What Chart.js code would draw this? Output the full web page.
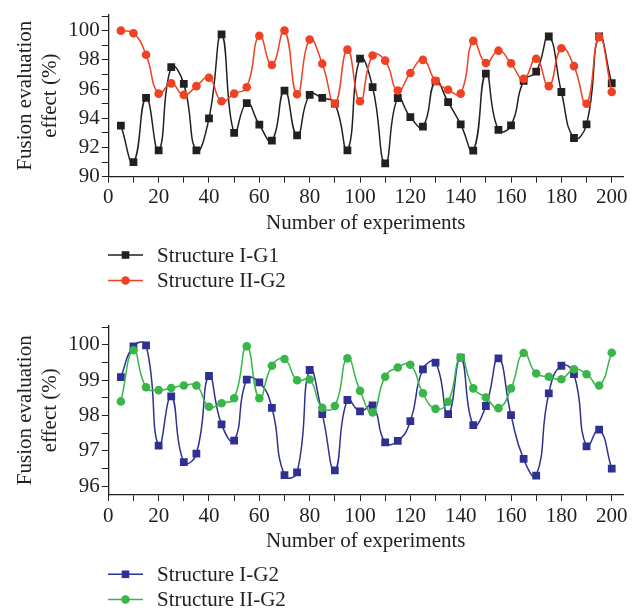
<!DOCTYPE html>
<html>
<head>
<meta charset="utf-8">
<script src="https://cdn.jsdelivr.net/npm/chart.js@4"></script>
<style>
  body { margin: 0; background: #fff; }
  .wrap { position: absolute; left: 0; width: 637px; }
  #top { top: 0; height: 300px; }
  #bottom { top: 300px; height: 312px; }
</style>
</head>
<body>
<div class="wrap" id="top"><canvas id="chart1"></canvas></div>
<div class="wrap" id="bottom"><canvas id="chart2"></canvas></div>
<script>
// x values (number of experiments)
const experiments = [5, 10, 15, 20, 25, 30, 35, 40, 45, 50, 55, 60, 65, 70, 75, 80, 85, 90, 95, 100,
  105, 110, 115, 120, 125, 130, 135, 140, 145, 150, 155, 160, 165, 170, 175, 180, 185, 190, 195, 200];

// top chart
const structureIG1 = [93.5, 91.0, 95.4, 91.8, 97.5, 96.35, 91.8, 94.0, 99.74, 93.0, 95.04, 93.56, 92.47, 95.9, 92.83, 95.6, 95.4, 95.0, 91.8, 98.08,
  96.13, 90.91, 95.39, 94.08, 93.43, 96.52, 95.1, 93.58, 91.78, 97.06, 93.2, 93.52, 96.56, 97.2, 99.6, 95.8, 92.65, 93.58, 99.6, 96.4];
const structureIIG2a = [100.0, 99.82, 98.35, 95.69, 96.39, 95.6, 96.2, 96.78, 95.17, 95.69, 96.13, 99.65, 97.65, 100.0, 95.65, 99.39, 97.74, 95.0, 98.7, 95.17,
  98.3, 97.95, 95.9, 97.1, 98.0, 96.56, 95.95, 95.69, 99.3, 97.78, 98.63, 97.76, 96.7, 98.08, 96.2, 98.8, 97.57, 95.0, 99.56, 95.8];

// bottom chart
const structureIG2 = [99.09, 99.96, 99.99, 97.15, 98.54, 96.68, 96.92, 99.12, 97.75, 97.29, 99.02, 98.94, 98.22, 96.31, 96.39, 99.29, 98.04, 96.45, 98.44, 98.12,
  98.29, 97.24, 97.28, 97.84, 99.31, 99.5, 98.04, 99.64, 97.73, 98.27, 99.62, 98.01, 96.77, 96.3, 98.63, 99.41, 99.17, 97.13, 97.6, 96.5];
const structureIIG2b = [98.4, 99.85, 98.8, 98.72, 98.78, 98.85, 98.85, 98.25, 98.35, 98.49, 99.96, 98.49, 99.41, 99.6, 99.0, 99.02, 98.22, 98.27, 99.62, 98.7,
  98.09, 99.1, 99.36, 99.44, 98.63, 98.19, 98.39, 99.64, 98.77, 98.51, 98.21, 98.77, 99.77, 99.19, 99.1, 99.03, 99.31, 99.17, 98.85, 99.78];

const BLACK = '#231f20', RED = '#ef4123', BLUE = '#2e3192', GREEN = '#39b54a';
const FONT = 'Liberation Serif';
const TEXT = '#231f20';

function points(ys) {
  return experiments.map((x, i) => ({ x: x, y: ys[i] }));
}

function makeDataset(label, ys, color, style, order) {
  return {
    label: label,
    data: points(ys),
    borderColor: color,
    backgroundColor: color,
    borderWidth: 1.5,
    tension: 0.5,
    pointStyle: style,
    pointRadius: style === 'rect' ? 5.5 : 4.3,
    pointBorderWidth: 0,
    order: order
  };
}

// draws the legend rows below the x-axis title
const legendRows = {
  id: 'legendRows',
  afterDraw(chart, args, opts) {
    const ctx = chart.ctx;
    ctx.save();
    opts.items.forEach((item, i) => {
      const y = opts.y[i];
      ctx.strokeStyle = item.color;
      ctx.lineWidth = 1.5;
      ctx.beginPath();
      ctx.moveTo(108, y);
      ctx.lineTo(143, y);
      ctx.stroke();
      ctx.fillStyle = item.color;
      if (item.style === 'rect') {
        ctx.fillRect(125.5 - 3.8, y - 3.8, 7.6, 7.6);
      } else {
        ctx.beginPath();
        ctx.arc(125.5, y, 4.3, 0, Math.PI * 2);
        ctx.fill();
      }
      ctx.fillStyle = TEXT;
      ctx.font = '21px "' + FONT + '"';
      ctx.textBaseline = 'middle';
      ctx.fillText(item.label, 157, y + 1);
    });
    ctx.restore();
  }
};

function makeOptions(yMin, yMax, yStep, isLabel, padTop, xHeight, padBottom, legend) {
  return {
    responsive: true,
    maintainAspectRatio: false,
    animation: false,
    layout: { padding: { top: padTop, right: 13.7, left: 0, bottom: padBottom } },
    plugins: {
      legend: { display: false },
      tooltip: { enabled: false },
      legendRows: legend
    },
    scales: {
      x: {
        type: 'linear',
        min: 0,
        max: 204.6,
        afterFit: s => { s.height = xHeight; },
        grid: { drawOnChartArea: false, drawTicks: true, tickLength: 6, color: TEXT },
        border: { color: TEXT, width: 1.3 },
        ticks: {
          stepSize: 10,
          includeBounds: false,
          autoSkip: false,
          maxRotation: 0,
          padding: 2.5,
          color: TEXT,
          font: { family: FONT, size: 21 },
          callback: v => (v % 20 === 0 ? v : '')
        },
        title: {
          display: true,
          text: 'Number of experiments',
          color: TEXT,
          font: { family: FONT, size: 21, lineHeight: 1.2 },
          padding: { top: 0, bottom: 0 }
        }
      },
      y: {
        min: yMin,
        max: yMax,
        afterFit: s => { s.width = 108.3; },
        grid: { drawOnChartArea: false, drawTicks: true, tickLength: 6.5, color: TEXT },
        border: { color: TEXT, width: 1.3 },
        ticks: {
          stepSize: yStep,
          includeBounds: false,
          autoSkip: false,
          padding: 2,
          color: TEXT,
          font: { family: FONT, size: 21 },
          callback: v => (isLabel(v) ? v : '')
        },
        title: {
          display: true,
          text: ['Fusion evaluation', 'effect (%)'],
          color: TEXT,
          font: { family: FONT, size: 21, lineHeight: 1.19 },
          padding: { top: 12.5, bottom: 0 }
        }
      }
    }
  };
}

new Chart(document.getElementById('chart1'), {
  type: 'line',
  data: {
    datasets: [
      makeDataset('Structure I-G1', structureIG1, BLACK, 'rect', 1),
      makeDataset('Structure II-G2', structureIIG2a, RED, 'circle', 0)
    ]
  },
  options: makeOptions(90, 101.1, 1, v => v % 2 === 0, 6.7, 59, 64.3, {
    y: [255, 280.5],
    items: [
      { label: 'Structure I-G1', color: BLACK, style: 'rect' },
      { label: 'Structure II-G2', color: RED, style: 'circle' }
    ]
  }),
  plugins: [legendRows]
});

new Chart(document.getElementById('chart2'), {
  type: 'line',
  data: {
    datasets: [
      makeDataset('Structure I-G2', structureIG2, BLUE, 'rect', 1),
      makeDataset('Structure II-G2', structureIIG2b, GREEN, 'circle', 0)
    ]
  },
  options: makeOptions(95.75, 100.55, 0.5, v => Number.isInteger(v), 25.5, 59.5, 57.5, {
    y: [274.3, 299.5],
    items: [
      { label: 'Structure I-G2', color: BLUE, style: 'rect' },
      { label: 'Structure II-G2', color: GREEN, style: 'circle' }
    ]
  }),
  plugins: [legendRows]
});
</script>
</body>
</html>
